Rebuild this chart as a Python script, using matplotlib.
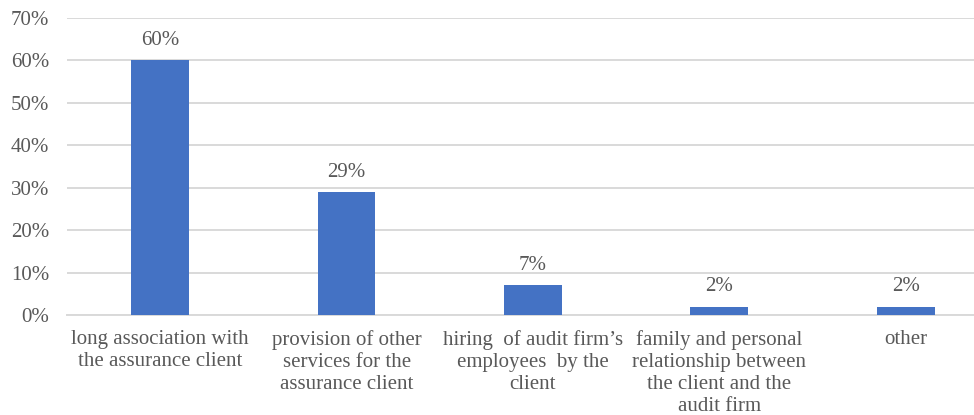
import matplotlib
matplotlib.use("Agg")
import matplotlib.pyplot as plt
from matplotlib.ticker import FuncFormatter

categories = [
    "long association with\nthe assurance client",
    "provision of other\nservices for the\nassurance client",
    "hiring  of audit firm\u2019s\nemployees  by the\nclient",
    "family and personal\nrelationship between\nthe client and the\naudit firm",
    "other",
]
shares = [60, 29, 7, 2, 2]
value_labels = ["60%", "29%", "7%", "2%", "2%"]
ytick_values = [0, 10, 20, 30, 40, 50, 60, 70]

plt.rcParams["font.family"] = ["Liberation Serif", "DejaVu Serif"]
text_color = "#595959"

fig = plt.figure(figsize=(9.74, 4.15), dpi=100)
W, H = 974, 415
left, right, top, bottom = 67, 974, 18, 315
ax = fig.add_axes([left / W, (H - bottom) / H, (right - left) / W, (bottom - top) / H])

x = list(range(len(categories)))
ax.bar(x, shares, width=0.31, color="#4472C4", zorder=3)

for xi, v, lab in zip(x, shares, value_labels):
    ax.annotate(lab, (xi, v), xytext=(0, 11), textcoords="offset points",
                ha="center", va="baseline", fontsize=15, color=text_color)

ax.set_ylim(0, 70)
ax.set_xlim(-0.5, 4.366)
ax.set_yticks(ytick_values)
ax.yaxis.set_major_formatter(FuncFormatter(lambda v, p: f"{int(v)}%"))
ax.yaxis.grid(True, color="#d9d9d9", linewidth=1.4, zorder=0)
ax.set_axisbelow(True)

ax.set_xticks(x)
ax.set_xticklabels(categories, fontsize=15, color=text_color, linespacing=1.2)
ax.tick_params(axis="x", length=0, pad=11)
ax.tick_params(axis="y", length=0, pad=13, labelsize=15, labelcolor=text_color)

for s in ["top", "right", "left"]:
    ax.spines[s].set_visible(False)
ax.spines["bottom"].set_color("#d9d9d9")
ax.spines["bottom"].set_linewidth(1.4)

fig.savefig("out.png", dpi=100)
